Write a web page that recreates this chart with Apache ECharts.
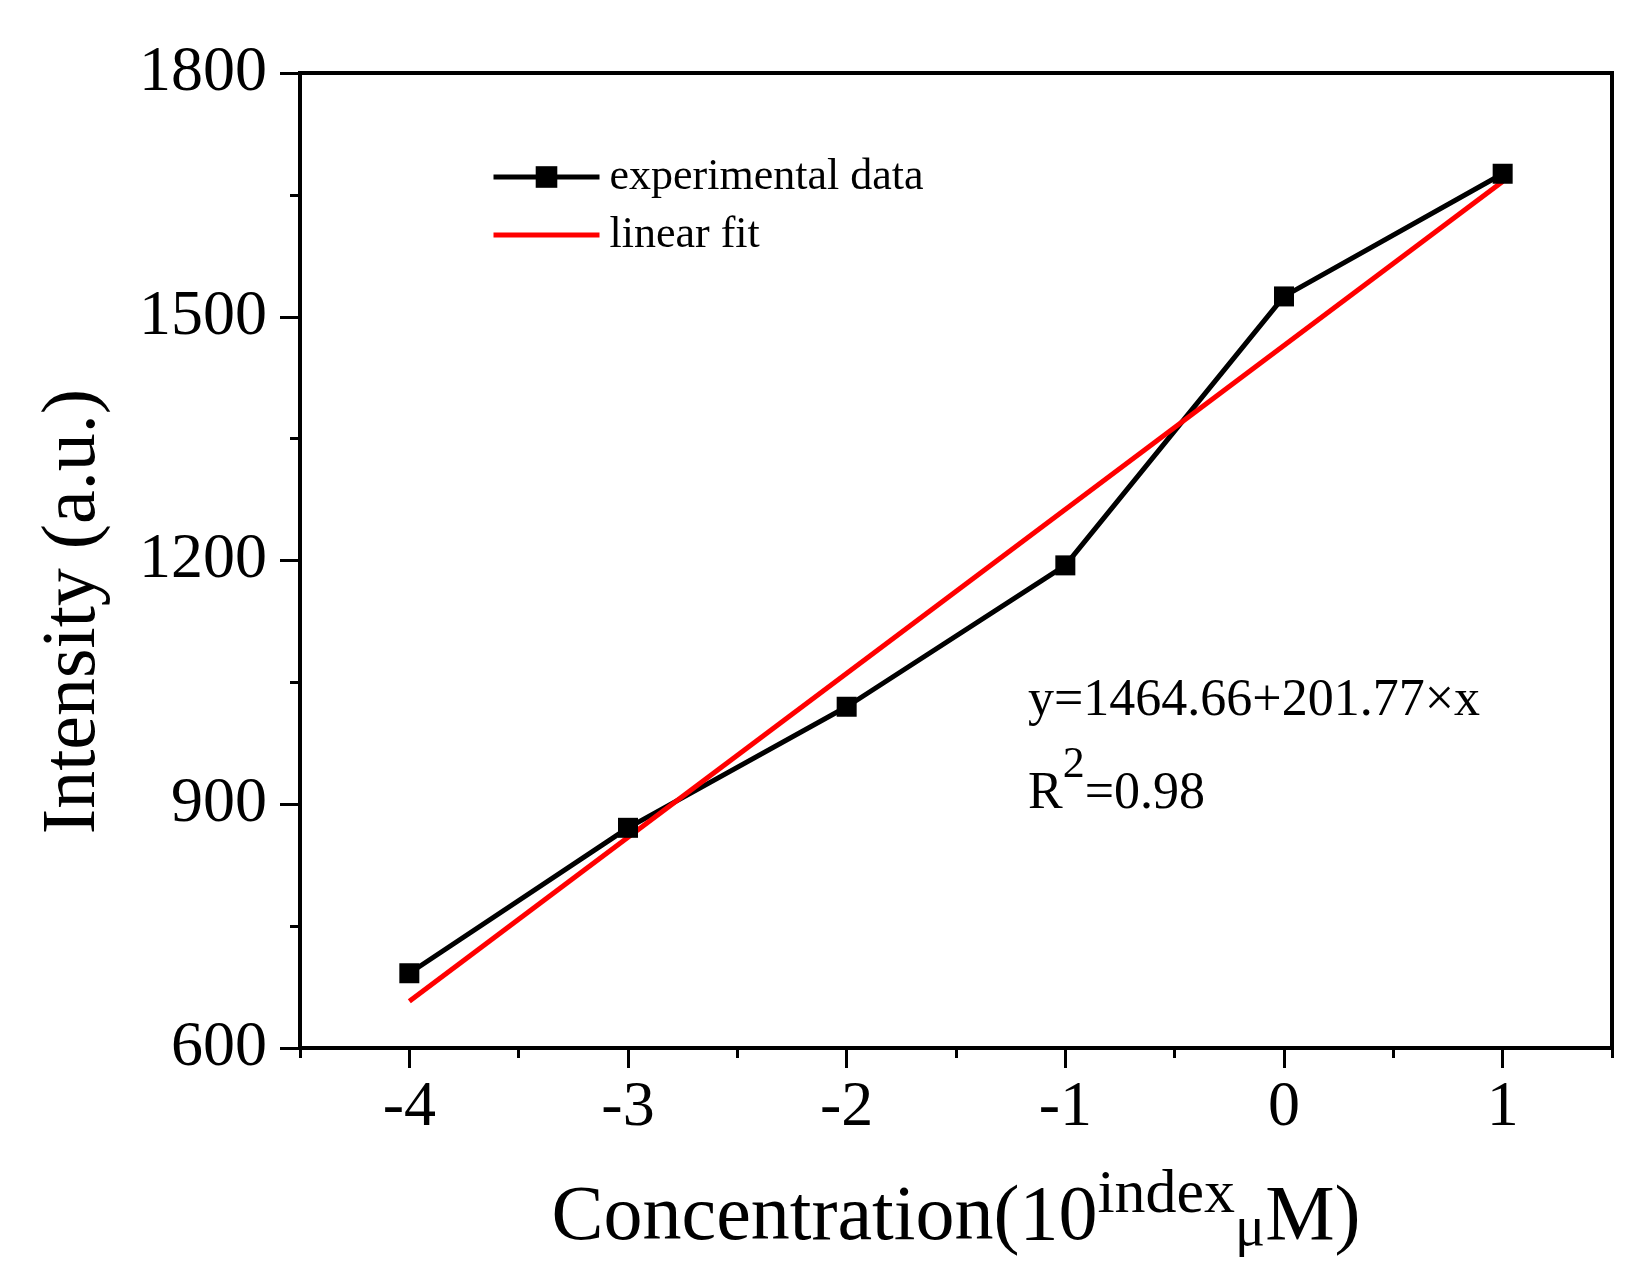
<!DOCTYPE html>
<html>
<head>
<meta charset="utf-8">
<script src="https://cdn.jsdelivr.net/npm/echarts@6/dist/echarts.min.js"></script>
<style>
  html, body { margin: 0; padding: 0; background: #fff; }
  #chart { width: 1650px; height: 1283px; }
</style>
</head>
<body>
<div id="chart"></div>
<script>
// concentration exponent (10^index uM) and measured intensity
const concIndex = [-4, -3, -2, -1, 0, 1];
const intensity = [692, 871, 1020, 1194, 1525, 1676];

// linear fit line end points, y = 1464.66 + 201.77x
const fitIndex = [-4, 1];
const fitIntensity = [657.6, 1666.4];

const xMajorTicks = [-4, -3, -2, -1, 0, 1];
const xMinorTicks = [-4.5, -3.5, -2.5, -1.5, -0.5, 0.5, 1.5];

const serif = "'Liberation Serif', 'Times New Roman', serif";

const chart = echarts.init(document.getElementById('chart'));

const option = {
  backgroundColor: '#fff',
  animation: false,
  grid: {
    left: 300, top: 73, width: 1312, height: 975,
    show: true, borderColor: '#000', borderWidth: 4
  },
  legend: {
    orient: 'vertical',
    left: 486, top: 150,
    itemWidth: 106, itemHeight: 27, itemGap: 14,
    lineStyle: { width: 5 },
    textStyle: { fontFamily: serif, fontSize: 44, color: '#000', lineHeight: 44, padding: [0, 0, 0, 5] },
    data: [
      { name: 'experimental data' },
      { name: 'linear fit', itemStyle: { opacity: 0 } }
    ]
  },
  xAxis: [
    {
      type: 'value', min: -4.5, max: 1.5, position: 'bottom',
      axisLine: { onZero: false, lineStyle: { color: '#000', width: 4 } },
      axisTick: { customValues: xMajorTicks, length: 20, lineStyle: { color: '#000', width: 3 } },
      axisLabel: { customValues: xMajorTicks, fontFamily: serif, fontSize: 64, color: '#000', margin: 28 },
      splitLine: { show: false },
      name: '{a|Concentration(10}{sup|index}{mu|μ}{a|M)}',
      nameLocation: 'middle',
      nameGap: 132,
      nameTextStyle: {
        rich: {
          a: { fontFamily: serif, fontSize: 78, lineHeight: 78, color: '#000' },
          sup: { fontFamily: serif, fontSize: 62, lineHeight: 62, color: '#000', padding: [0, 0, 46, 0] },
          mu: { fontFamily: serif, fontSize: 56, lineHeight: 56, color: '#000', padding: [22, 0, 0, 0] }
        }
      }
    },
    {
      type: 'value', min: -4.5, max: 1.5, position: 'bottom',
      axisLine: { show: false, onZero: false },
      axisTick: { customValues: xMinorTicks, length: 10, lineStyle: { color: '#000', width: 3 } },
      axisLabel: { show: false },
      splitLine: { show: false }
    }
  ],
  yAxis: {
    type: 'value', min: 600, max: 1800, interval: 300,
    axisLine: { show: true, onZero: false, lineStyle: { color: '#000', width: 4 } },
    axisTick: { show: true, length: 20, lineStyle: { color: '#000', width: 3 } },
    minorTick: { show: true, splitNumber: 2, length: 10, lineStyle: { color: '#000', width: 3 } },
    axisLabel: { fontFamily: serif, fontSize: 64, color: '#000', margin: 33, formatter: v => String(v) },
    splitLine: { show: false },
    name: 'Intensity (a.u.)',
    nameLocation: 'middle',
    nameRotate: 90,
    nameGap: 188,
    nameTextStyle: { fontFamily: serif, fontSize: 76, lineHeight: 76, color: '#000', padding: [0, 102, 0, 0] }
  },
  series: [
    {
      name: 'experimental data',
      type: 'line',
      xAxisIndex: 0,
      data: concIndex.map((x, i) => [x, intensity[i]]),
      symbol: 'rect',
      symbolSize: 20,
      lineStyle: { color: '#000', width: 5 },
      itemStyle: { color: '#000' }
    },
    {
      name: 'linear fit',
      type: 'line',
      xAxisIndex: 0,
      data: fitIndex.map((x, i) => [x, fitIntensity[i]]),
      symbol: 'none',
      lineStyle: { color: '#ff0000', width: 5 },
      itemStyle: { color: '#ff0000' }
    }
  ],
  graphic: [
    {
      type: 'text', left: 1028, top: 675,
      style: { text: 'y=1464.66+201.77×x', font: '52px ' + serif, fill: '#000' }
    },
    {
      type: 'text', left: 1028, top: 743,
      style: {
        text: '{a|R}{s|2}{a|=0.98}',
        rich: {
          a: { fontFamily: serif, fontSize: 52, lineHeight: 52, fill: '#000' },
          s: { fontFamily: serif, fontSize: 44, lineHeight: 44, fill: '#000', padding: [0, 0, 58, 0] }
        }
      }
    }
  ]
};

chart.setOption(option);
</script>
</body>
</html>
